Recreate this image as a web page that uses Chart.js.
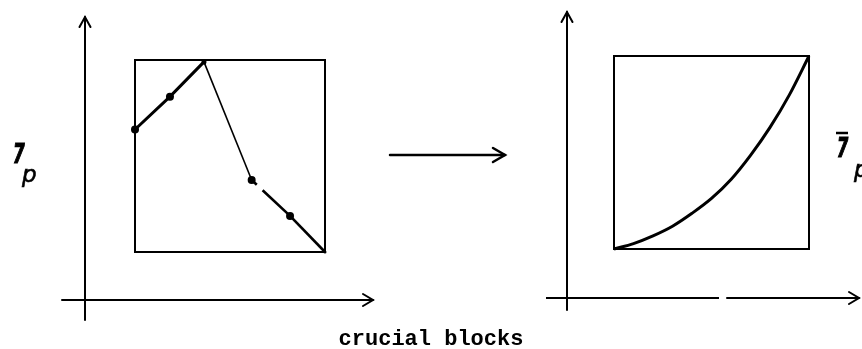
<!DOCTYPE html>
<html>
<head>
<meta charset="utf-8">
<script src="https://cdn.jsdelivr.net/npm/chart.js@4/dist/chart.umd.min.js"></script>
<style>
  html, body { margin: 0; padding: 0; background: #fff; overflow: hidden; }
  #wrap { position: relative; width: 862px; height: 349px; }
  canvas { position: absolute; left: 0; top: 0; }
</style>
</head>
<body>
<div id="wrap">
  <canvas id="before" width="862" height="349"></canvas>
  <canvas id="after" width="862" height="349"></canvas>
</div>
<script>
// Priority profile over the blocks, before smoothing (position, value on a 0-10 scale)
const blockPos   = [0, 1.84, 3.63, 6.14, 8.16, 10];
const blockValue = [6.38, 8.09, 9.9, 3.75, 1.88, 0];

// Smoothed, monotone profile after the transformation
const smoothPos   = [0, 1, 2, 3, 4, 5, 6, 7, 8, 9, 10];
const smoothValue = [0, 0.28, 0.68, 1.18, 1.85, 2.62, 3.6, 4.85, 6.3, 8.0, 10];

// Text
const axisTitle  = 'crucial blocks';
const leftSymbol = { main: '7', sub: 'p', bar: false };
const rightSymbol = { main: '7', sub: 'p', bar: true };

// Per-segment stroke styles of the first profile
const segWidth = [3, 3, 1.6, 2.6, 2.6];
const segDash  = [[], [], [], [7, 8, 200], []];
const pointSize = [4, 4, 2.5, 4, 4, 1.5];

const INK = '#000';

function arrow(ctx, x1, y1, x2, y2, len, spread, width) {
  ctx.save();
  ctx.strokeStyle = INK;
  ctx.lineWidth = width;
  ctx.lineCap = 'round';
  ctx.beginPath();
  ctx.moveTo(x1, y1);
  ctx.lineTo(x2, y2);
  ctx.stroke();
  const a = Math.atan2(y2 - y1, x2 - x1);
  const ux = Math.cos(a), uy = Math.sin(a);
  ctx.beginPath();
  ctx.moveTo(x2 - ux * len - uy * spread, y2 - uy * len + ux * spread);
  ctx.lineTo(x2, y2);
  ctx.lineTo(x2 - ux * len + uy * spread, y2 - uy * len - ux * spread);
  ctx.stroke();
  ctx.restore();
}

function line(ctx, x1, y1, x2, y2, width) {
  ctx.save();
  ctx.strokeStyle = INK;
  ctx.lineWidth = width;
  ctx.beginPath();
  ctx.moveTo(x1, y1);
  ctx.lineTo(x2, y2);
  ctx.stroke();
  ctx.restore();
}

function drawSymbol(ctx, sym, x, top, size, subX, subBase) {
  ctx.save();
  ctx.fillStyle = INK;
  ctx.strokeStyle = INK;
  ctx.textBaseline = 'alphabetic';
  ctx.font = 'italic bold ' + size + 'px "DejaVu Sans"';
  const base = top + size * 0.73;
  ctx.save();
  ctx.translate(x, base);
  ctx.scale(0.62, 1);
  ctx.lineWidth = 1.2;
  ctx.fillText(sym.main, 0, 0);
  ctx.strokeText(sym.main, 0, 0);
  ctx.restore();
  if (sym.bar) line(ctx, x - 1, top - 5, x + 11, top - 5, 2.5);
  ctx.font = 'italic 23px "DejaVu Sans"';
  ctx.lineWidth = 0.6;
  ctx.fillText(sym.sub, subX, subBase);
  ctx.strokeText(sym.sub, subX, subBase);
  ctx.restore();
}

// Frame: box around the plot area plus the outer axes with arrowheads
function framePlugin(cfg) {
  return {
    id: 'frame',
    beforeDatasetsDraw(chart) {
      const ctx = chart.ctx, ca = chart.chartArea;
      ctx.save();
      ctx.strokeStyle = INK;
      ctx.lineWidth = 2;
      ctx.strokeRect(ca.left, ca.top, ca.right - ca.left, ca.bottom - ca.top);
      ctx.restore();
      const vx = ca.left + cfg.vOff;
      arrow(ctx, vx, ca.bottom + cfg.vBottom, vx, ca.top + cfg.vTop, 10, 5.5, 2);
      const hy = ca.bottom + cfg.hOff;
      const hx0 = ca.left + cfg.hStart, hx1 = ca.right + cfg.hEnd;
      if (cfg.gap) {
        line(ctx, hx0, hy, cfg.gap[0], hy, 2);
        arrow(ctx, cfg.gap[1], hy, hx1, hy, 10, 6, 2);
      } else {
        arrow(ctx, hx0, hy, hx1, hy, 10, 6, 2);
      }
    },
    afterDraw(chart) {
      if (cfg.after) cfg.after(chart.ctx, chart.chartArea);
    }
  };
}

const common = {
  responsive: false,
  animation: false,
  events: [],
  plugins: { legend: { display: false }, tooltip: { enabled: false } },
  scales: {
    x: { type: 'linear', min: 0, max: 10, display: false },
    y: { type: 'linear', min: 0, max: 10, display: false }
  }
};

new Chart(document.getElementById('before'), {
  type: 'line',
  data: {
    datasets: [{
      data: blockPos.map((x, i) => ({ x, y: blockValue[i] })),
      borderColor: INK,
      borderWidth: 2.6,
      tension: 0,
      clip: false,
      pointRadius: pointSize,
      pointBackgroundColor: INK,
      pointBorderWidth: 0,
      segment: {
        borderWidth: c => segWidth[c.p0DataIndex],
        borderDash: c => segDash[c.p0DataIndex]
      }
    }]
  },
  options: Object.assign({}, common, {
    layout: { padding: { left: 135, right: 537, top: 60, bottom: 97 } }
  }),
  plugins: [framePlugin({
    vOff: -50, vTop: -43, vBottom: 68,
    hOff: 48, hStart: -73, hEnd: 48,
    after(ctx, ca) {
      drawSymbol(ctx, leftSymbol, 13, 143, 27, 22, 182);
      // transformation arrow between the two panels
      arrow(ctx, 390, 155, 505, 155, 12, 7, 2.5);
      ctx.save();
      ctx.fillStyle = INK;
      ctx.font = 'bold 22px "Liberation Mono"';
      ctx.textAlign = 'center';
      ctx.textBaseline = 'alphabetic';
      ctx.fillText(axisTitle, 431, 345);
      ctx.restore();
    }
  })]
});

new Chart(document.getElementById('after'), {
  type: 'line',
  data: {
    datasets: [{
      data: smoothPos.map((x, i) => ({ x, y: smoothValue[i] })),
      borderColor: INK,
      borderWidth: 3,
      cubicInterpolationMode: 'monotone',
      clip: false,
      pointRadius: 0
    }]
  },
  options: Object.assign({}, common, {
    layout: { padding: { left: 614, right: 53, top: 56, bottom: 100 } }
  }),
  plugins: [framePlugin({
    vOff: -47, vTop: -44, vBottom: 61,
    hOff: 49, hStart: -68, hEnd: 50,
    gap: [719, 727],
    after(ctx, ca) {
      drawSymbol(ctx, rightSymbol, 837, 138, 26, 854, 177);
    }
  })]
});
</script>
</body>
</html>
